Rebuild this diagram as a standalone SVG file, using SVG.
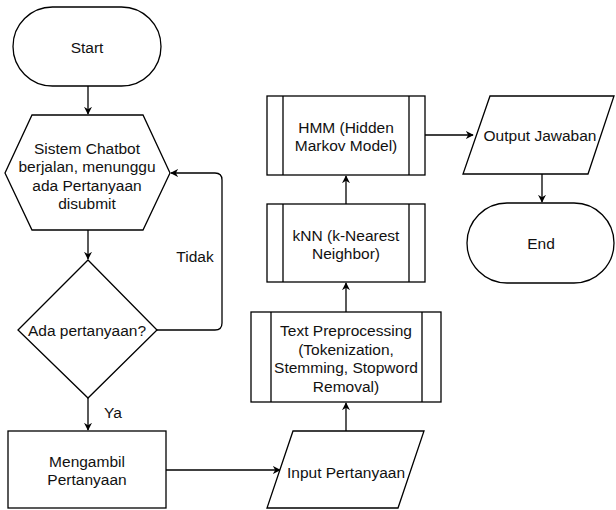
<svg xmlns="http://www.w3.org/2000/svg" width="616" height="510" viewBox="0 0 616 510">
<style>
.s{fill:#fff;stroke:#000;stroke-width:1.3}
.c{fill:none;stroke:#000;stroke-width:1.3}
text{font-family:"Liberation Sans",Arial,sans-serif;font-size:15.5px;fill:#111;text-anchor:middle}
</style>
<defs>
<marker id="a" viewBox="0 0 10 10" refX="9" refY="5" markerWidth="8" markerHeight="8" markerUnits="userSpaceOnUse" orient="auto">
<path d="M0,0 L10,5 L0,10 L3,5 z" fill="#000"/>
</marker>
</defs>
<g id="connectors">
<path class="c" d="M88,86 V114" marker-end="url(#a)"/>
<path class="c" d="M88,230 V259" marker-end="url(#a)"/>
<path class="c" d="M157,330 H215 Q222,330 222,323 V180 Q222,173 215,173 H171" marker-end="url(#a)"/>
<path class="c" d="M88,398 V430" marker-end="url(#a)"/>
<path class="c" d="M166,470 H280" marker-end="url(#a)"/>
<path class="c" d="M346,431 V403" marker-end="url(#a)"/>
<path class="c" d="M346,312 V283" marker-end="url(#a)"/>
<path class="c" d="M346,204 V176" marker-end="url(#a)"/>
<path class="c" d="M425,135 H473" marker-end="url(#a)"/>
<path class="c" d="M542,174 V202" marker-end="url(#a)"/>
<text x="195" y="262">Tidak</text>
<text x="113" y="418">Ya</text>
</g>
<g id="start">
<rect class="s" x="13" y="7" width="148" height="79" rx="39.5"/>
<text x="87" y="52.5">Start</text>
</g>
<g id="wait">
<polygon class="s" points="32,115 143,115 170,173 143,230 32,230 5,173"/>
<text x="87" y="153.5">Sistem Chatbot</text>
<text x="87" y="172">berjalan, menunggu</text>
<text x="87" y="190.5">ada Pertanyaan</text>
<text x="87" y="209">disubmit</text>
</g>
<g id="decision">
<polygon class="s" points="88,260 157,330 88,398 18,330"/>
<text x="87" y="335.5">Ada pertanyaan?</text>
</g>
<g id="ambil">
<rect class="s" x="8" y="431" width="158" height="77"/>
<text x="87" y="466.5">Mengambil</text>
<text x="87" y="485">Pertanyaan</text>
</g>
<g id="input">
<polygon class="s" points="293,431 424,431 398,508 267,508"/>
<text x="346" y="477.5">Input Pertanyaan</text>
</g>
<g id="preprocessing">
<rect class="s" x="251" y="312" width="190" height="90"/>
<path class="c" d="M271,312 V402 M422,312 V402"/>
<text x="346" y="336">Text Preprocessing</text>
<text x="346" y="354.5">(Tokenization,</text>
<text x="346" y="373">Stemming, Stopword</text>
<text x="346" y="391.5">Removal)</text>
</g>
<g id="knn">
<rect class="s" x="267" y="204" width="158" height="78"/>
<path class="c" d="M283,204 V282 M409,204 V282"/>
<text x="346" y="240.5">kNN (k-Nearest</text>
<text x="346" y="259">Neighbor)</text>
</g>
<g id="hmm">
<rect class="s" x="267" y="96" width="158" height="79"/>
<path class="c" d="M283,96 V175 M409,96 V175"/>
<text x="346" y="132.5">HMM (Hidden</text>
<text x="346" y="151">Markov Model)</text>
</g>
<g id="output">
<polygon class="s" points="490,96 614,96 588,174 463,174"/>
<text x="540" y="140.5">Output Jawaban</text>
</g>
<g id="end">
<rect class="s" x="467" y="203" width="147" height="80" rx="40"/>
<text x="541" y="248.5">End</text>
</g>
</svg>
